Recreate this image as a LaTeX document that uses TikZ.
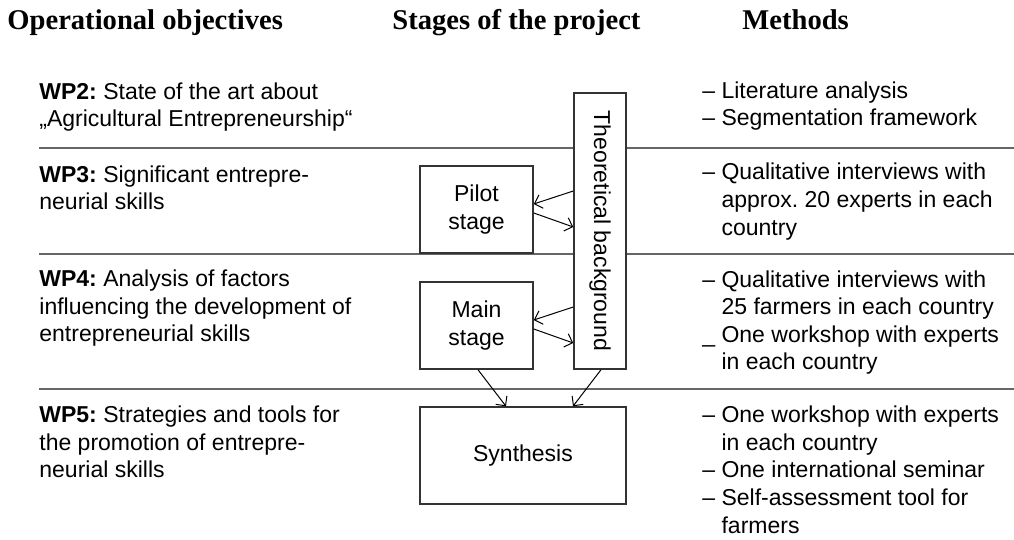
\documentclass[tikz,border=0pt]{standalone}
\usepackage{fontspec}
\setmainfont{Liberation Sans}
\newfontfamily\headfont{Liberation Serif}
\usepackage{graphicx}
\usetikzlibrary{arrows.meta}
\frenchspacing

\tikzset{stagebox/.style={draw=black!80,line width=0.75pt,fill=white,align=center,font=\fontsize{11.5pt}{13.8pt}\selectfont}}
\tikzset{sepline/.style={black!60,line width=1pt}}
\tikzset{flow/.style={-{Straight Barb[length=3.5pt,width=7pt]},line width=0.5pt}}
% multi-line text: the node sits on the baseline of its last line
\tikzset{wptext/.style={anchor=base west,align=left,inner sep=0pt,font=\fontsize{11.5pt}{13.8pt}\selectfont}}
\tikzset{colhead/.style={anchor=base west,inner sep=0pt,font=\fontsize{14.3pt}{17pt}\headfont\bfseries}}

\newcommand{\hang}{\phantom{– }}

\begin{document}
\begin{tikzpicture}[x=0.5pt,y=-0.5pt]
        \useasboundingbox (0,0) rectangle (1014,540);
        % column heads
        \node[colhead] (hobj) at (7,30) {Operational objectives};
        \node[colhead] (hstage) at (392,30) {Stages of the project};
        \node[colhead] (hmeth) at (742,30) {Methods};

        % separators between the work packages
        \foreach \y in {148,254,389}
            \draw[sepline] (39,\y) -- (1014,\y);

        % work packages
        \node[wptext] (wp2) at (39,127) {\textbf{WP2:} State of the art about\\„Agricultural Entrepreneurship“};
        \node[wptext] (wp3) at (39,210) {\textbf{WP3:} Significant entrepre-\\neurial skills};
        \node[wptext] (wp4) at (39,342) {\textbf{WP4:} Analysis of factors\\influencing the development of\\entrepreneurial skills};
        \node[wptext] (wp5) at (39,478) {\textbf{WP5:} Strategies and tools for\\the promotion of entrepre-\\neurial skills};

        % methods
        \node[wptext] (m2) at (702,126) {– Literature analysis\\– Segmentation framework};
        \node[wptext] (m3) at (702,235) {– Qualitative interviews with\\\hang approx. 20 experts in each\\\hang country};
        \node[wptext] (m4) at (702,370) {– Qualitative interviews with\\\hang 25 farmers in each country\\\_ One workshop with experts\\\hang in each country};
        \node[wptext] (m5) at (702,533) {– One workshop with experts\\\hang in each country\\– One international seminar\\– Self-assessment tool for\\\hang farmers};

        % stages of the project
        \node[stagebox,minimum width=56.5pt,minimum height=43.5pt] (pilot) at (476.5,209.5) {Pilot\\stage};
        \node[stagebox,minimum width=56.5pt,minimum height=43.5pt] (main) at (476.5,325.5) {Main\\stage};
        \node[stagebox,minimum width=103pt,minimum height=48.5pt] (synth) at (523,455.5) {Synthesis};
        \node[stagebox,minimum width=26pt,minimum height=138pt] (theory) at (600,231) {\rotatebox{-90}{Theoretical background}};

        % arrows between the stages
        \draw[flow] (theory.west |- 0,191) -- (pilot.east |- 0,204);
        \draw[flow] (pilot.east |- 0,213) -- (theory.west |- 0,227);
        \draw[flow] (theory.west |- 0,307) -- (main.east |- 0,320);
        \draw[flow] (main.east |- 0,329) -- (theory.west |- 0,343);
        \draw[flow] (main.south -| 478,0) -- (synth.north -| 506,0);
        \draw[flow] (theory.south -| 601,0) -- (synth.north -| 573,0);
\end{tikzpicture}
\end{document}
